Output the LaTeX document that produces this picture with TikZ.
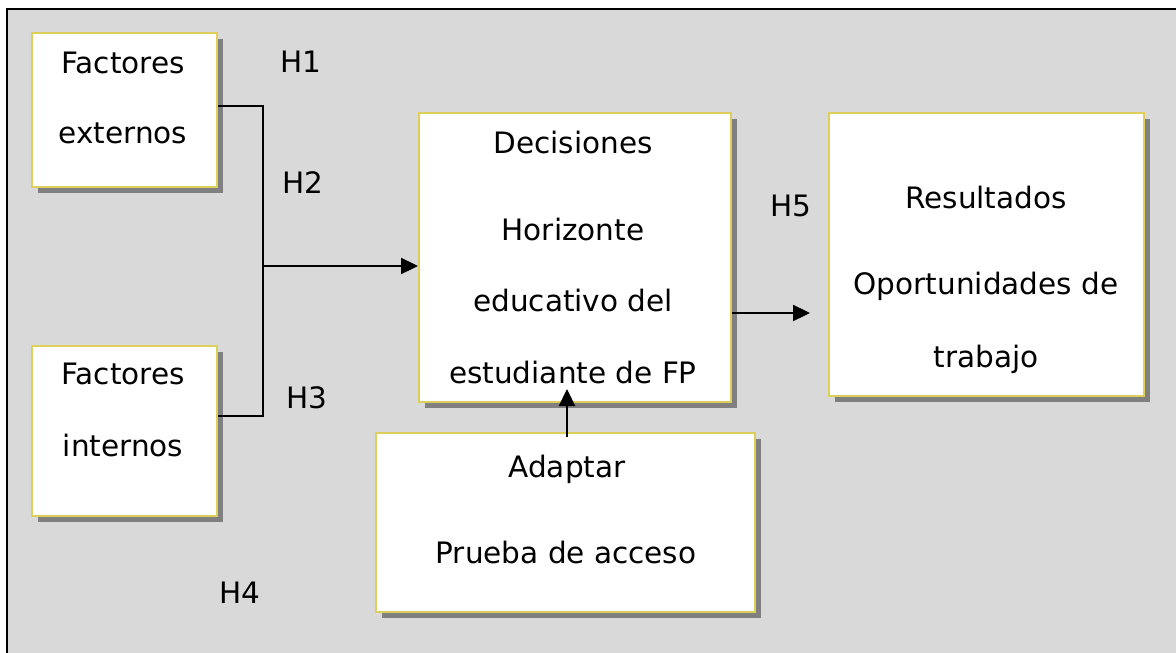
\documentclass[tikz,border=0pt]{standalone}
\usepackage{fontspec}
\setmainfont{DejaVu Sans}
\usetikzlibrary{shadows,arrows.meta}
\definecolor{bggray}{RGB}{217,217,217}
\definecolor{boxedge}{RGB}{222,206,90}
\definecolor{shadowgray}{RGB}{128,128,128}
\begin{document}
\begin{tikzpicture}[x=1pt,y=-1pt,
  box/.style={draw=boxedge,line width=2pt,fill=white,anchor=north west,
    general shadow={fill=shadowgray,shadow xshift=6pt,shadow yshift=-6pt}},
  txt/.style={anchor=base,inner sep=0pt,font=\fontsize{29.5}{35}\selectfont},
  conn/.style={draw=black,line width=2.3pt},
  arrow/.style={conn,-{Triangle[length=17pt,width=16pt]}}]
\useasboundingbox (0,0) rectangle (1176,653);
% background frame
\fill[bggray] (7,9) rectangle (1180,660);
\draw[line width=2.3pt] (7,660) -- (7,9) -- (1180,9);
% boxes
\node[box,minimum width=185pt,minimum height=154pt] (fe) at (31,32) {};
\node[box,minimum width=185pt,minimum height=170pt] (fi) at (31,345) {};
\node[box,minimum width=312pt,minimum height=289pt] (dec) at (418,112) {};
\node[box,minimum width=315pt,minimum height=283pt] (res) at (828,112) {};
\node[box,minimum width=379pt,minimum height=179pt] (ad) at (375,432) {};
% texts
\node[txt] (fe1) at (123,73) {Factores};
\node[txt] (fe2) at (123,143) {externos};
\node[txt] (fi1) at (123,384) {Factores};
\node[txt] (fi2) at (123,456) {internos};
\node[txt] (d1) at (573,153) {Decisiones};
\node[txt] (d2) at (573,240) {Horizonte};
\node[txt] (d3) at (573,311) {educativo del};
\node[txt] (d4) at (573,383) {estudiante de FP};
\node[txt] (r1) at (986,208) {Resultados};
\node[txt] (r2) at (986,294) {Oportunidades de};
\node[txt] (r3) at (986,367) {trabajo};
\node[txt] (a1) at (567,477) {Adaptar};
\node[txt] (a2) at (566,563) {Prueba de acceso};
\node[txt] (h1) at (301,72) {H1};
\node[txt] (h2) at (303,193) {H2};
\node[txt] (h3) at (307,408) {H3};
\node[txt] (h4) at (240,603) {H4};
\node[txt] (h5) at (791,216) {H5};
% connectors
\coordinate (j) at (263,266);
\coordinate (jt) at (263,106);
\coordinate (jb) at (263,416);
\coordinate (rt) at (810,313);
\coordinate (ut) at (567,389);
\draw[conn] (fe.east |- jt) -- (jt) -- (jb) -- (fi.east |- jb);
\draw[arrow] (j) -- (dec.west |- j);
\draw[arrow] (dec.east |- rt) -- (rt);
\draw[arrow] ([yshift=-5pt]ad.north -| ut) -- (ut);
\end{tikzpicture}
\end{document}
